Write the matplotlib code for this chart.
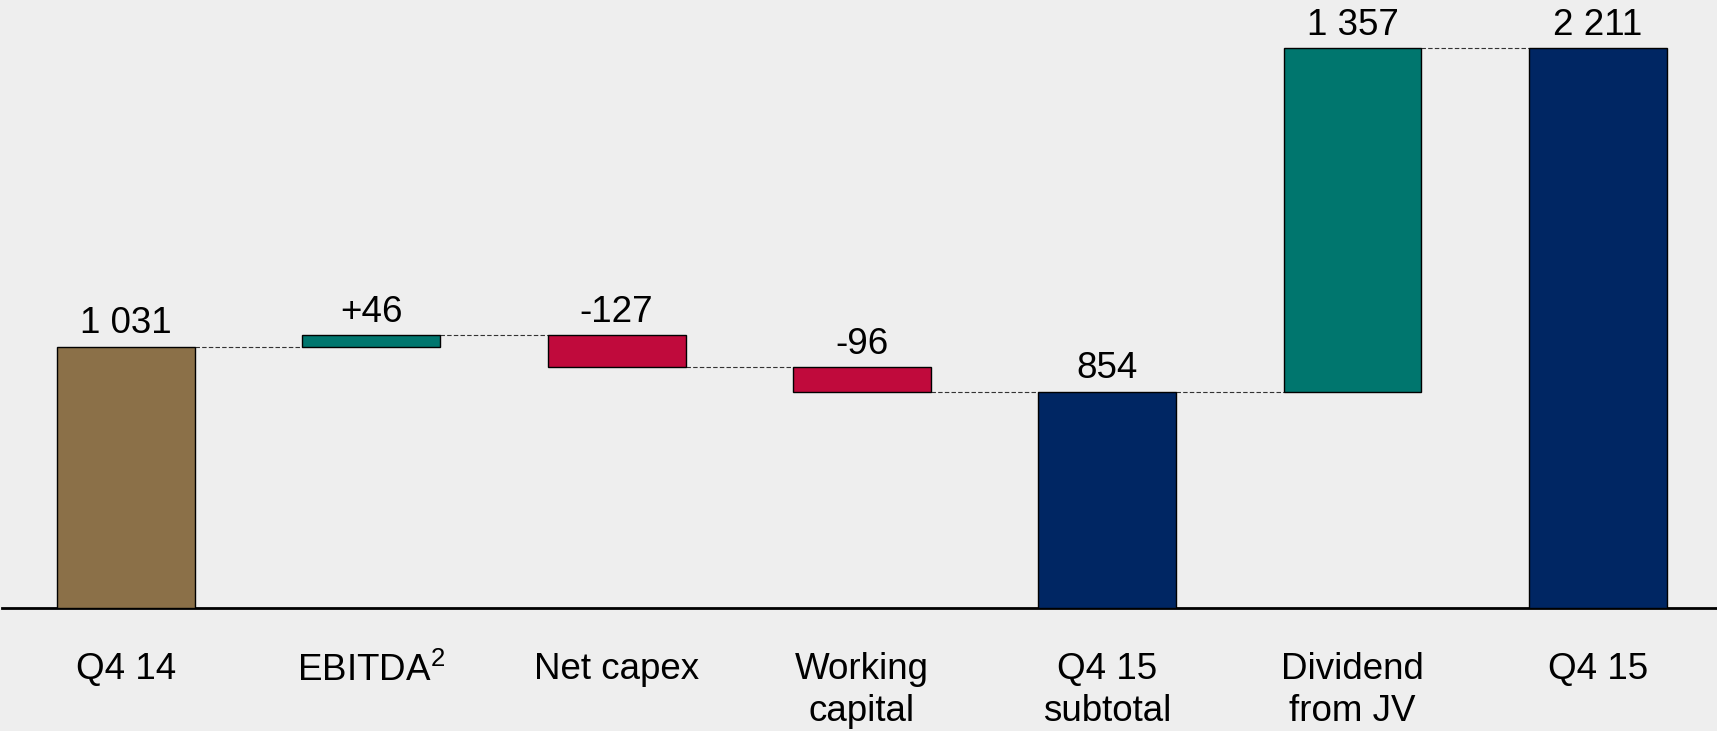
import matplotlib.pyplot as plt

plt.rcParams['font.family'] = ['Liberation Sans', 'DejaVu Sans']
plt.rcParams['mathtext.fontset'] = 'custom'
plt.rcParams['mathtext.rm'] = 'Liberation Sans'
plt.rcParams['mathtext.default'] = 'regular'

# Bridge steps: totals start from zero, deltas float on the running total
categories = ["Q4 14", "EBITDA$^{2}$", "Net capex", "Working\ncapital",
              "Q4 15\nsubtotal", "Dividend\nfrom JV", "Q4 15"]
values = [1031, 46, -127, -96, 854, 1357, 2211]
is_total = [True, False, False, False, True, False, True]
signed = [False, True, True, True, False, False, False]
colors = ["#8B7048", "#00766E", "#C00A3C", "#C00A3C",
          "#002663", "#00766E", "#002663"]


def fmt(v, sign):
    s = f"{abs(v):,}".replace(",", " ")
    if v < 0:
        return "-" + s
    return ("+" + s) if sign else s


bg = "#EEEEEE"
fig = plt.figure(figsize=(17.17, 7.31), dpi=100, facecolor=bg)
ax = fig.add_axes([2 / 1717, 0.1683, 1 - 2 / 1717, 0.8317], facecolor=bg)

width = 0.5625
running = 0
for i, (v, tot) in enumerate(zip(values, is_total)):
    if tot:
        bottom, height = 0, v
        running = v
    else:
        bottom = running if v > 0 else running + v
        height = abs(v)
        running += v
    ax.bar(i, height, bottom=bottom, width=width, color=colors[i],
           edgecolor="black", linewidth=1.0, zorder=3)
    ax.annotate(fmt(v, signed[i]), (i, bottom + height), xytext=(0, 4),
                textcoords="offset points", ha="center", va="bottom",
                fontsize=26.5)

# dashed connectors between neighbouring bars
level = 0
for i, (v, tot) in enumerate(zip(values, is_total)):
    level = v if tot else level + v
    if i < len(values) - 1:
        ax.plot([i + width / 2, i + 1 - width / 2], [level, level],
                color="#333333", linestyle=(0, (4, 2)), linewidth=0.8,
                zorder=2)

ax.set_xlim(-0.514 + 2 / 245.3, 6.486)
ax.set_ylim(0, 2401)
ax.set_xticks(range(len(categories)))
ax.set_xticklabels(categories, fontsize=26.5, linespacing=1.25)
ax.tick_params(axis="x", length=0, pad=32)
ax.set_yticks([])
for side in ["top", "right", "left"]:
    ax.spines[side].set_visible(False)
ax.spines["bottom"].set_linewidth(2)
ax.spines["bottom"].set_color("black")

fig.savefig("out.png", dpi=100, facecolor=bg)
